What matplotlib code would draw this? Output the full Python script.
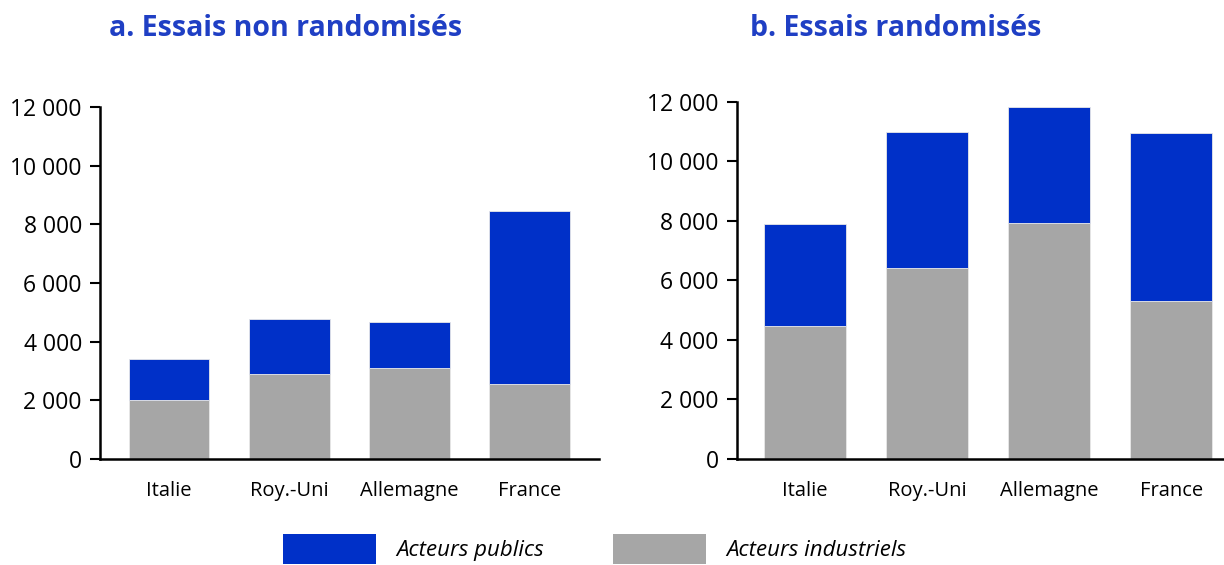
import matplotlib.pyplot as plt
from matplotlib.patches import Patch
from matplotlib.ticker import FuncFormatter

pays = ['Italie', 'Roy.-Uni', 'Allemagne', 'France']

# a. essais non randomises
nr_industriels = [2000, 2900, 3100, 2560]
nr_publics = [1400, 1870, 1570, 5900]

# b. essais randomises
r_industriels = [4470, 6420, 7930, 5310]
r_publics = [3430, 4570, 3900, 5650]

bleu = '#0030C8'
gris = '#A6A6A6'
titre_col = '#1F3FC4'

plt.rcParams['font.family'] = ['Open Sans', 'DejaVu Sans']

fig = plt.figure(figsize=(12.24, 5.65), dpi=100)
ax1 = fig.add_axes([0.0817, 0.1876, 0.408, 0.623])
ax2 = fig.add_axes([0.602, 0.1876, 0.398, 0.632])

fmt = FuncFormatter(lambda v, p: '{:,.0f}'.format(v).replace(',', ' '))


def panneau(ax, ind, pub, xmin, xmax):
    x = range(len(pays))
    ax.bar(x, ind, width=0.67, color=gris, edgecolor='#E8E8E8', linewidth=0.6)
    ax.bar(x, pub, width=0.67, bottom=ind, color=bleu, edgecolor='#E8E8E8', linewidth=0.6)
    ax.set_xlim(xmin, xmax)
    ax.set_ylim(0, 12000)
    ax.set_yticks(range(0, 12001, 2000))
    ax.yaxis.set_major_formatter(fmt)
    ax.set_xticks(list(x))
    ax.set_xticklabels(pays, fontsize=14.5)
    ax.tick_params(axis='x', length=0, pad=16)
    ax.tick_params(axis='y', length=7, width=1.5, labelsize=16.5, pad=6)
    for s in ['top', 'right']:
        ax.spines[s].set_visible(False)
    for s in ['left', 'bottom']:
        ax.spines[s].set_linewidth(1.8)


panneau(ax1, nr_industriels, nr_publics, -0.575, 3.58)
panneau(ax2, r_industriels, r_publics, -0.555, 3.43)

fig.text(0.233, 0.95, 'a. Essais non randomisés', ha='center', va='center',
         fontsize=20.5, fontweight='bold', color=titre_col)
fig.text(0.732, 0.95, 'b. Essais randomisés', ha='center', va='center',
         fontsize=20.5, fontweight='bold', color=titre_col)

handles = [Patch(facecolor=bleu, label='Acteurs publics'),
           Patch(facecolor=gris, label='Acteurs industriels')]
leg = fig.legend(handles=handles, loc='center', bbox_to_anchor=(0.486, 0.028), ncol=2,
                 frameon=False, handlelength=4.2, handleheight=1.7,
                 handletextpad=0.9, columnspacing=3.1,
                 prop={'style': 'italic', 'size': 16})

fig.savefig('out.png', dpi=100)
